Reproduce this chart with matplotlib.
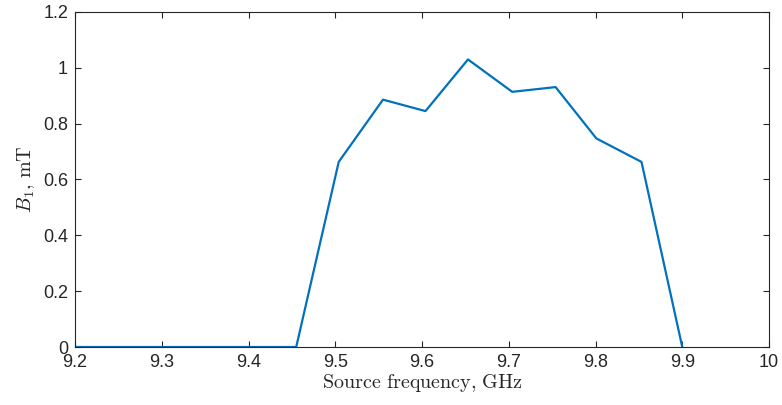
import numpy as np
import matplotlib.pyplot as plt

plt.rcParams['mathtext.fontset'] = 'cm'
plt.rcParams['font.family'] = ['Liberation Sans', 'DejaVu Sans']

# Source frequency (GHz) and measured B1 amplitude (mT)
freq = [9.2, 9.455, 9.504, 9.555, 9.604, 9.653, 9.704, 9.754, 9.801, 9.853, 9.9]
b1 = [0.0, 0.0, 0.663, 0.886, 0.845, 1.030, 0.914, 0.931, 0.747, 0.663, 0.0]

xticks = np.round(np.arange(9.2, 10.01, 0.1), 1)
xticklabels = ['9.2', '9.3', '9.4', '9.5', '9.6', '9.7', '9.8', '9.9', '10']
yticks = [0, 0.2, 0.4, 0.6, 0.8, 1.0, 1.2]
yticklabels = ['0', '0.2', '0.4', '0.6', '0.8', '1', '1.2']

fig = plt.figure(figsize=(7.82, 4.05), dpi=100)
ax = fig.add_axes([0.0959, 0.1432, 0.8875, 0.8272])

ax.plot(freq, b1, color='#0072BD', linewidth=1.6)

ax.set_xlim(9.2, 10)
ax.set_ylim(0, 1.2)
ax.set_xticks(xticks)
ax.set_xticklabels(xticklabels)
ax.set_yticks(yticks)
ax.set_yticklabels(yticklabels)

axis_color = '#262626'
for s in ax.spines.values():
    s.set_color(axis_color)
    s.set_linewidth(0.8)
ax.tick_params(direction='in', top=True, right=True, length=4, width=0.8,
               colors=axis_color, labelsize=13, pad=5)

ax.set_xlabel(r'$\mathrm{Source\ frequency{,}\ GHz}$', fontsize=14.5, labelpad=1,
              color=axis_color)
ax.set_ylabel(r'$B_1\mathrm{{,}\ mT}$', fontsize=14.5, labelpad=4, color=axis_color)

fig.savefig('out.png', dpi=100)
